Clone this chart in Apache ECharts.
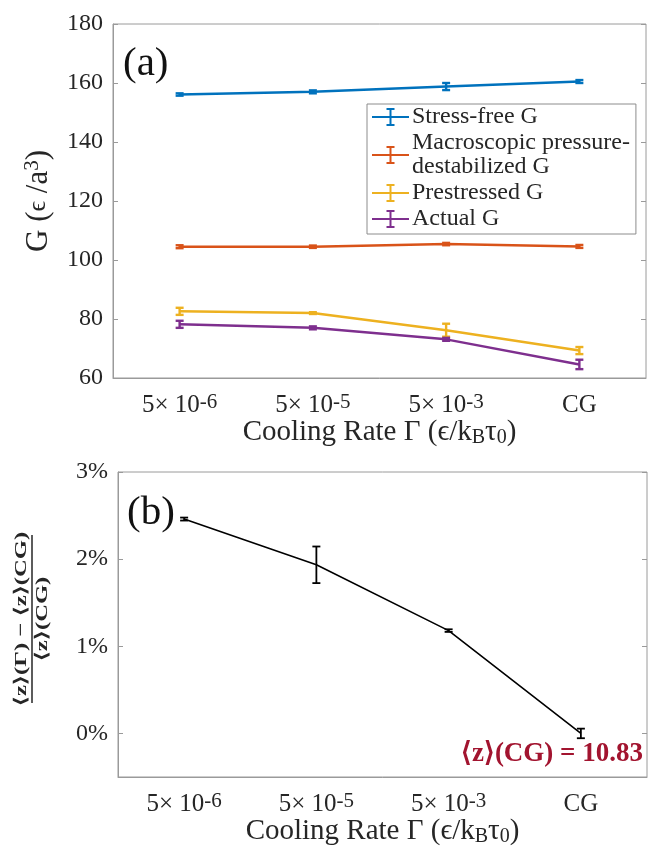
<!DOCTYPE html>
<html>
<head>
<meta charset="utf-8">
<script src="https://cdn.jsdelivr.net/npm/echarts@6/dist/echarts.min.js"></script>
<style>html,body{margin:0;padding:0;background:#fff}#c{width:648px;height:854px}</style>
</head>
<body>
<div id="c"></div>
<script>
// ---- data ----
const categories = ['5e-6', '5e-5', '5e-3', 'CG'];
const xTickLabels = ['{m|5× 10}{sup|-6}', '{m|5× 10}{sup|-5}', '{m|5× 10}{sup|-3}', '{m|CG}'];
const yTicksTop = [60, 80, 100, 120, 140, 160, 180];
const yTicksBottom = [0, 1, 2, 3];

const stressFree = [156.1, 157.0, 158.8, 160.5];
const stressFreeErr = [0.4, 0.5, 1.2, 0.5];
const macro = [104.5, 104.5, 105.4, 104.6];
const macroErr = [0.5, 0.4, 0.4, 0.5];
const prestressed = [82.6, 82.0, 76.2, 69.3];
const prestressedErr = [1.2, 0.3, 2.2, 1.2];
const actual = [78.2, 77.0, 73.1, 64.6];
const actualErr = [1.2, 0.5, 0.5, 1.6];

const zChange = [2.46, 1.935, 1.18, 0.0];      // percent
const zChangeErr = [0.017, 0.21, 0.015, 0.055];

const seriesNames = ['Stress-free G', 'Macroscopic pressure-destabilized G', 'Prestressed G', 'Actual G'];
const colors = ['#0072BD', '#D95319', '#EDB120', '#7E2F8E'];

// ---- helpers ----
const FONT = 'Liberation Serif';
const TXT = '#262626';
const AX = '#9a9a9a';

function errData(vals, errs) {
  return vals.map((v, i) => [i, v - errs[i], v + errs[i]]);
}
function errRender(color, lw, capHalf) {
  return function (params, api) {
    const x = api.value(0), lo = api.value(1), hi = api.value(2);
    const p1 = api.coord([x, lo]);
    const p2 = api.coord([x, hi]);
    const st = { stroke: color, lineWidth: lw };
    return {
      type: 'group',
      children: [
        { type: 'line', shape: { x1: p1[0], y1: p1[1], x2: p2[0], y2: p2[1] }, style: st },
        { type: 'line', shape: { x1: p1[0] - capHalf, y1: p1[1], x2: p1[0] + capHalf, y2: p1[1] }, style: st },
        { type: 'line', shape: { x1: p2[0] - capHalf, y1: p2[1], x2: p2[0] + capHalf, y2: p2[1] }, style: st }
      ]
    };
  };
}

const tickLabelRich = {
  m: { fontSize: 25, fontFamily: FONT, color: TXT, lineHeight: 26, verticalAlign: 'bottom' },
  sup: { fontSize: 21, fontFamily: FONT, color: TXT, lineHeight: 22, verticalAlign: 'top', padding: [0, 0, 12, 0] }
};
const nameRich = {
  m: { fontSize: 29, fontFamily: FONT, color: TXT, lineHeight: 30, verticalAlign: 'top' },
  sub: { fontSize: 20, fontFamily: FONT, color: TXT, lineHeight: 20, verticalAlign: 'bottom', padding: [21, 0, 0, 0] }
};

function xAxisMain(gridIndex) {
  return {
    type: 'category', gridIndex, data: categories, boundaryGap: true,
    axisLine: { onZero: false, lineStyle: { color: AX, width: 1 } },
    axisTick: { alignWithLabel: true, inside: true, length: 5, lineStyle: { color: AX } },
    axisLabel: {
      interval: 0, margin: 14, fontSize: 25, fontFamily: FONT, color: TXT,
      formatter: (v, i) => xTickLabels[i], rich: tickLabelRich
    },
    name: '{m|Cooling Rate Γ (ϵ/k}{sub|B}{m|τ}{sub|0}{m|)}',
    nameLocation: 'middle', nameGap: 40, nameMoveOverlap: false,
    nameTextStyle: { fontSize: 29, fontFamily: FONT, color: TXT, rich: nameRich },
    splitLine: { show: false }
  };
}
function xAxisTop(gridIndex) {
  return {
    type: 'category', gridIndex, data: categories, boundaryGap: true, position: 'top',
    axisLine: { show: false, onZero: false },
    axisTick: { alignWithLabel: true, inside: true, length: 5, lineStyle: { color: AX } },
    axisLabel: { show: false }, splitLine: { show: false }
  };
}

const option = {
  animation: false,
  backgroundColor: '#fff',
  grid: [
    { left: 113, right: 2, top: 24, bottom: 476, outerBoundsMode: 'none', containLabel: false, show: true, borderColor: AX, borderWidth: 1, backgroundColor: 'transparent' },
    { left: 118, right: 1, top: 472, bottom: 77, outerBoundsMode: 'none', containLabel: false, show: true, borderColor: AX, borderWidth: 1, backgroundColor: 'transparent' }
  ],
  xAxis: [xAxisMain(0), xAxisTop(0), xAxisMain(1), xAxisTop(1)],
  yAxis: [
    {
      type: 'value', gridIndex: 0, min: 60, max: 180, interval: 20,
      axisLine: { show: true, onZero: false, lineStyle: { color: AX } },
      axisTick: { show: true, inside: true, length: 5, lineStyle: { color: AX } },
      axisLabel: { margin: 10, fontSize: 24, fontFamily: FONT, color: TXT, customValues: yTicksTop },
      splitLine: { show: false },
      name: 'G ({e|ϵ} /a{sup|3})', nameLocation: 'middle', nameRotate: 90, nameGap: 58, nameMoveOverlap: false,
      nameTextStyle: {
        fontSize: 31, fontFamily: FONT, color: TXT,
        rich: {
          e: { fontSize: 26, fontFamily: FONT, color: TXT },
          sup: { fontSize: 21, fontFamily: FONT, color: TXT, verticalAlign: 'top', padding: [0, 0, 12, 0] }
        }
      }
    },
    {
      type: 'value', gridIndex: 0, min: 60, max: 180, interval: 20, position: 'right',
      axisLine: { show: false },
      axisTick: { show: true, inside: true, length: 5, lineStyle: { color: AX } },
      axisLabel: { show: false }, splitLine: { show: false }
    },
    {
      type: 'value', gridIndex: 1, min: -0.5, max: 3,
      axisLine: { show: true, onZero: false, lineStyle: { color: AX } },
      axisTick: { show: true, inside: true, length: 5, lineStyle: { color: AX }, customValues: yTicksBottom },
      axisLabel: { margin: 10, fontSize: 24, fontFamily: FONT, color: TXT, customValues: yTicksBottom, formatter: v => v + '%' },
      splitLine: { show: false }
    },
    {
      type: 'value', gridIndex: 1, min: -0.5, max: 3, position: 'right',
      axisLine: { show: false },
      axisTick: { show: true, inside: true, length: 5, lineStyle: { color: AX }, customValues: yTicksBottom },
      axisLabel: { show: false }, splitLine: { show: false }
    }
  ],
  legend: {
    data: seriesNames,
    orient: 'vertical', left: 367, top: 104,
    backgroundColor: '#fff', borderColor: '#8c8c8c', borderWidth: 1,
    padding: [1, 6, 3, 5], itemGap: 2, itemWidth: 37, itemHeight: 20,
    icon: 'path://M0,9 H37 V11 H0 Z M17.5,1.5 H19.5 V18.5 H17.5 Z M14.5,1 H22.5 V3 H14.5 Z M14.5,17 H22.5 V19 H14.5 Z',
    textStyle: { fontSize: 24, fontFamily: FONT, color: TXT, lineHeight: 24, padding: [0, 0, 0, -2] },
    formatter: n => n === 'Macroscopic pressure-destabilized G' ? 'Macroscopic pressure-\ndestabilized G' : n,
    selectedMode: false
  },
  graphic: [
    { type: 'text', left: 123, top: 44, style: { text: '(a)', fontSize: 41, fontFamily: FONT, fill: '#111' }, z: 100 },
    { type: 'text', left: 127, top: 493, style: { text: '(b)', fontSize: 41, fontFamily: FONT, fill: '#111' }, z: 100 },
    { type: 'text', right: 5, top: 741, style: { text: '⟨z⟩(CG) = 10.83', fontSize: 27, fontWeight: 'bold', fontFamily: FONT, fill: '#A2142F' }, z: 100 },
    {
      type: 'group', x: 32, y: 619, rotation: Math.PI / 2, scaleX: 1.45, scaleY: 1, z: 100,
      children: [
        { type: 'text', x: 0, y: -2, style: { text: '⟨z⟩(Γ) − ⟨z⟩(CG)', fontSize: 17, fontWeight: 'bold', fontFamily: FONT, fill: TXT, align: 'center', verticalAlign: 'bottom' } },
        { type: 'line', shape: { x1: -58, y1: 0, x2: 58, y2: 0 }, style: { stroke: TXT, lineWidth: 1.5 } },
        { type: 'text', x: 0, y: 2, style: { text: '⟨z⟩(CG)', fontSize: 17, fontWeight: 'bold', fontFamily: FONT, fill: TXT, align: 'center', verticalAlign: 'top' } }
      ]
    }
  ],
  series: []
};

const topVals = [stressFree, macro, prestressed, actual];
const topErrs = [stressFreeErr, macroErr, prestressedErr, actualErr];
topVals.forEach((vals, k) => {
  option.series.push({
    type: 'line', name: seriesNames[k], xAxisIndex: 0, yAxisIndex: 0,
    data: vals, symbol: 'none', lineStyle: { color: colors[k], width: 2.5 }, itemStyle: { color: colors[k] }, z: 3
  });
  option.series.push({
    type: 'custom', name: seriesNames[k], xAxisIndex: 0, yAxisIndex: 0,
    data: errData(vals, topErrs[k]), encode: { x: 0, y: [1, 2] },
    renderItem: errRender(colors[k], 2.4, 4), itemStyle: { color: colors[k] }, z: 4
  });
});
option.series.push({
  type: 'line', name: 'zChange', xAxisIndex: 2, yAxisIndex: 2,
  data: zChange, symbol: 'none', lineStyle: { color: '#000', width: 1.6 }, itemStyle: { color: '#000' }, z: 3
});
option.series.push({
  type: 'custom', name: 'zChangeErr', xAxisIndex: 2, yAxisIndex: 2,
  data: errData(zChange, zChangeErr), encode: { x: 0, y: [1, 2] },
  renderItem: errRender('#000', 1.8, 4), z: 4
});

const chart = echarts.init(document.getElementById('c'), null, { renderer: 'canvas' });
chart.setOption(option);
</script>
</body>
</html>
